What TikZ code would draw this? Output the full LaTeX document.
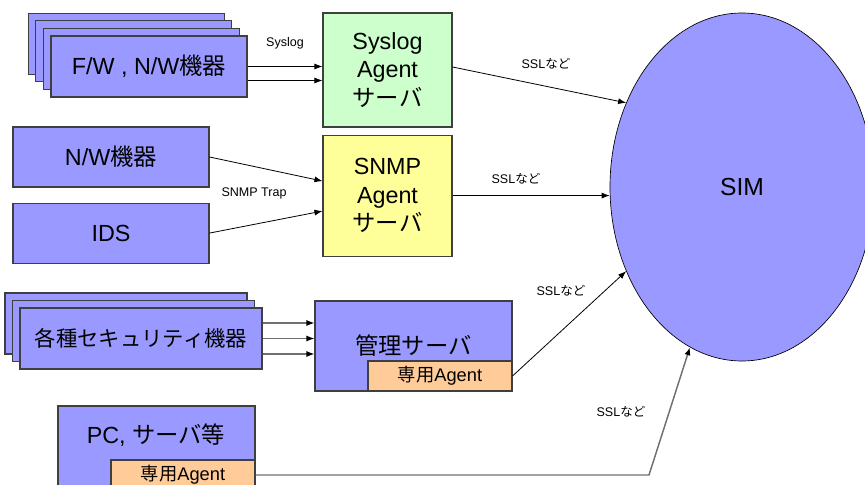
\documentclass[tikz,border=0pt]{standalone}
\usepackage{fontspec}
\setmainfont{Liberation Sans}
\newfontfamily\jpfont{Noto Sans CJK JP}
\newcommand{\jtxt}[1]{{\jpfont #1}}
\usepackage{tikz}
\usetikzlibrary{
    arrows.meta,
    positioning,
    shapes.geometric,
}
\newcommand{\px}{0.75pt}
\definecolor{devblue}{HTML}{9999FF}
\definecolor{syslogfill}{HTML}{CCFFCC}
\definecolor{snmpfill}{HTML}{FFFF99}
\definecolor{agentfill}{HTML}{FFCC99}
\definecolor{boxline}{HTML}{3F3F3F}
\definecolor{linegray}{HTML}{707070}
\tikzstyle{arrow}=[-{Latex[length=6pt, width=4.5pt]}, line width=0.6pt]
\tikzstyle{grayarrow}=[-{Latex[length=6pt, width=4.5pt, color=black]}, draw=linegray]
\tikzset{
    box/.style={draw=boxline, line width=0.8pt, inner sep=0pt, align=center,
        font=\fontsize{17.5}{21.4}\selectfont},
    devbox/.style={box, fill=devblue},
    agentbox/.style={box, fill=agentfill, minimum width=144*\px, minimum height=30*\px,
        font=\fontsize{13.7}{16}\selectfont},
    lbl/.style={font=\fontsize{9.4}{11}\selectfont},
}

\begin{document}
\begin{tikzpicture}[x=\px, y=-\px]
    \useasboundingbox (0,0) rectangle (865,485);
    \clip (0,0) rectangle (865,485);
    % syslog sources
    \foreach \i in {3,2,1}
        \node[devbox, minimum width=196*\px, minimum height=61*\px] at (149-7.6*\i, 66.5-7.6*\i) {};
    \node[devbox, minimum width=196*\px, minimum height=61*\px] (fw) at (149,66.5) {F/W , N/W\jtxt{機器}};
    \node[box, fill=syslogfill, minimum width=129*\px, minimum height=114*\px] (syslog) at (387.5,70) {Syslog\\Agent\\\jtxt{サーバ}};
    \node[lbl] (sysloglbl) at (285,43) {Syslog};
    % snmp sources
    \node[devbox, minimum width=196*\px, minimum height=60*\px] (nw) at (111,157) {N/W\jtxt{機器}};
    \node[devbox, minimum width=196*\px, minimum height=60*\px, below=11.25pt of nw] (ids) {IDS};
    \node[box, fill=snmpfill, minimum width=129*\px, minimum height=121*\px, below=5.25pt of syslog] (snmp) {SNMP\\Agent\\\jtxt{サーバ}};
    \node[lbl] (snmplbl) at (254,193) {SNMP Trap};
    % security devices
    \foreach \i in {2,1}
        \node[devbox, minimum width=242*\px, minimum height=61*\px] at (141-7.5*\i, 338.5-7.5*\i) {};
    \node[devbox, minimum width=242*\px, minimum height=61*\px, font=\fontsize{16}{19}\selectfont] (sec) at (141,338.5) {\jtxt{各種セキュリティ機器}};
    \node[devbox, minimum width=197*\px, minimum height=90*\px] (mgr) at (413.5,346) {\jtxt{管理サーバ}};
    \node[agentbox] (mgragent) at (440,376) {\jtxt{専用}Agent};
    % pc
    \node[devbox, minimum width=197*\px, minimum height=90*\px] (pc) at (156.5,451) {};
    \node[font=\fontsize{17.5}{21}\selectfont] (pclbl) at (156,435) {PC, \jtxt{サーバ等}};
    \node[agentbox] (pcagent) at (183,475) {\jtxt{専用}Agent};
    % SIM
    \node[ellipse, draw=black, fill=devblue, line width=0.5pt, inner sep=0pt,
        minimum width=264*\px, minimum height=348*\px,
        font=\fontsize{18.5}{22}\selectfont] (sim) at (742,187) {SIM};

    \foreach \dy in {0,-14} {
        \coordinate (fwout) at ([yshift=\dy*\px]fw.east);
        \draw[arrow] (fwout) -- (fwout -| syslog.west);
    }
    \draw[arrow] (nw.east) -- ([yshift=14.5*\px]snmp.west);
    \draw[arrow] (ids.east) -- ([yshift=-15.5*\px]snmp.west);
    \foreach \dy in {15.5,0,-15.5} {
        \coordinate (secout) at ([yshift=\dy*\px]sec.east);
        \draw[grayarrow, line width=0.9pt] (secout) -- (secout -| mgr.west);
    }
    \draw[arrow] ([yshift=3*\px]syslog.east) -- (sim.144);
    \draw[arrow] (snmp.east) -- (snmp.east -| sim.west);
    \draw[arrow] (mgragent.east) -- (sim.216);
    \coordinate (bend) at (649,475);
    \draw[grayarrow, line width=1.1pt] (pcagent.east) -- (bend) -- (sim.252);
    \node[lbl] (ssl1) at (546,64) {SSL\jtxt{など}};
    \node[lbl] (ssl2) at (516,179) {SSL\jtxt{など}};
    \node[lbl] (ssl3) at (561,291) {SSL\jtxt{など}};
    \node[lbl] (ssl4) at (621,412) {SSL\jtxt{など}};
\end{tikzpicture}
\end{document}
